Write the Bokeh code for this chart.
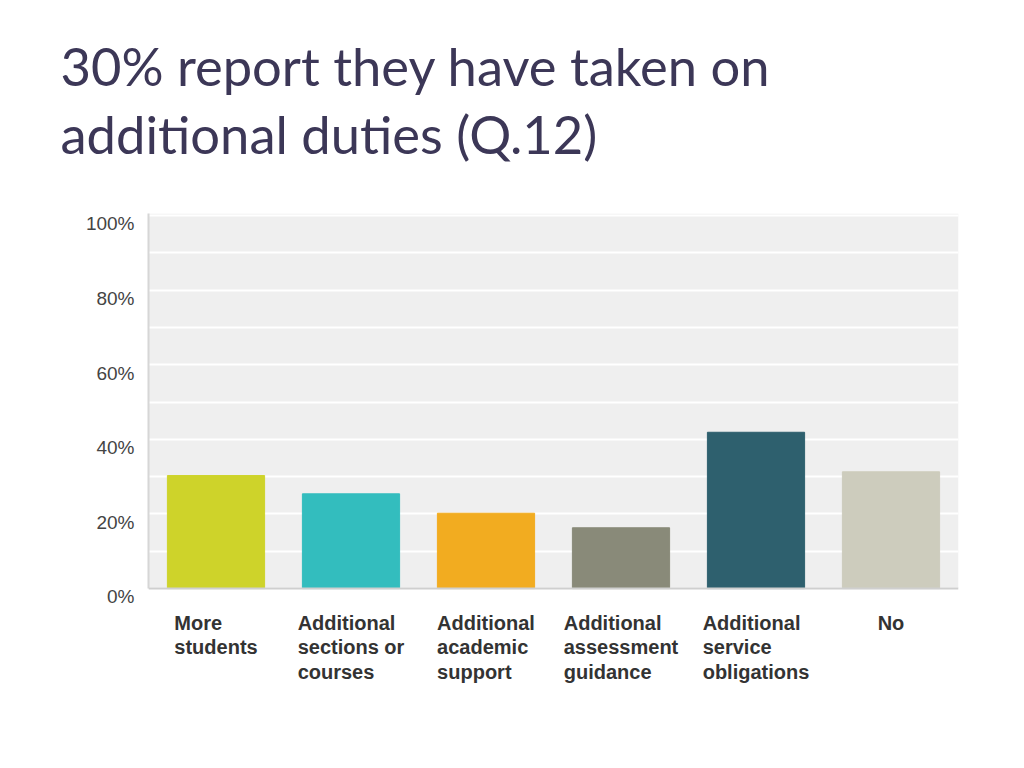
from bokeh.plotting import figure
from bokeh.models import (ColumnDataSource, FactorRange, Range1d, FixedTicker,
                          NumeralTickFormatter, BoxAnnotation, Span, Title)
from bokeh.core.properties import value
from bokeh.embed import file_html
from bokeh.resources import INLINE

title_text = "30% report they have taken on\nadditional duties (Q.12)"
categories = [
    "More\nstudents",
    "Additional\nsections or\ncourses",
    "Additional\nacademic\nsupport",
    "Additional\nassessment\nguidance",
    "Additional\nservice\nobligations",
    "No",
]
shares = [0.303, 0.254, 0.202, 0.163, 0.419, 0.313]
colors = ["#CED32A", "#33BDBE", "#F2AC20", "#898A79", "#2E606E", "#CDCCBD"]
y_ticks = [0.0, 0.2, 0.4, 0.6, 0.8, 1.0]
y_tick_labels = ["0%", "20%", "40%", "60%", "80%", "100%"]
grid_ticks = [0.0, 0.1, 0.2, 0.3, 0.4, 0.5, 0.6, 0.7, 0.8, 0.9, 1.0]

src = ColumnDataSource(dict(cat=categories, share=shares, color=colors))

p = figure(width=1000, height=750,
           x_range=FactorRange(*categories),
           y_range=Range1d(-0.300, 1.0054),
           output_backend="svg", toolbar_location=None,
           min_border_left=148, min_border_right=42,
           min_border_top=213, min_border_bottom=50,
           outline_line_color=None,
           background_fill_color="white", border_fill_color="white")

# blank spacer panel between the heading and the plot area
spacer = Title(text=" ", text_font_size="10px", standoff=33)
p.add_layout(spacer, "above")

heading = Title(text=title_text, align="left", vertical_align="top",
                offset=-88, standoff=0, text_font="Lato",
                text_font_style="normal", text_font_size="52.5px",
                text_color="#3C3757", text_line_height=1.09)
p.add_layout(heading, "above")

# plot background (only for the 0..100% region)
bg = BoxAnnotation(bottom=0, fill_color="#EFEFEF", fill_alpha=1.0,
                   line_color=None, level="image")
p.add_layout(bg)

p.xaxis.visible = False
p.xgrid.visible = False

p.ygrid.ticker = FixedTicker(ticks=grid_ticks)
p.ygrid.grid_line_color = "white"
p.ygrid.grid_line_width = 2
p.ygrid.bounds = (0, 1)

ax = p.yaxis[0]
ax.ticker = FixedTicker(ticks=y_ticks)
ax.formatter = NumeralTickFormatter(format="0%")
# leading blank line nudges each label just below its grid line, as in the original
ax.major_label_overrides = {t: "\n" + s for t, s in zip(y_ticks, y_tick_labels)}
ax.major_label_text_line_height = 0.8
ax.bounds = (0, 1.0054)
ax.axis_line_color = "#D6D6D6"
ax.axis_line_width = 2
ax.major_tick_line_color = None
ax.minor_tick_line_color = None
ax.major_label_standoff = 8
ax.major_label_text_font = "Liberation Sans"
ax.major_label_text_font_size = "19px"
ax.major_label_text_color = "#444444"

p.vbar(x="cat", top="share", width=0.72, source=src,
       fill_color="color", line_color="color")

p.add_layout(Span(location=0, dimension="width", line_color="#CFCFCF", line_width=2))

p.text(x="cat", y=-0.062, text="cat", source=src,
       text_font=value("Liberation Sans"), text_font_style="bold",
       text_font_size="20px", text_color="#333333",
       anchor="top_center", text_align="left", text_line_height=1.12)

open("out.html", "w").write(file_html(p, INLINE))
